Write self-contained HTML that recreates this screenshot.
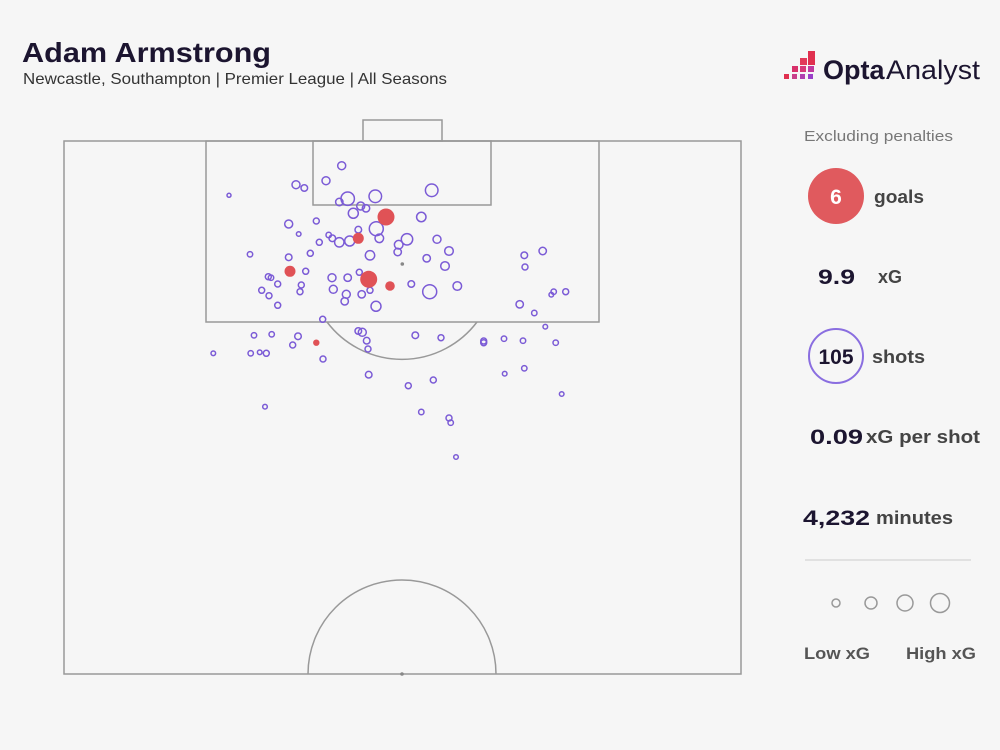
<!DOCTYPE html>
<html><head><meta charset="utf-8"><style>
body{margin:0;background:#f6f6f6;font-family:"Liberation Sans",sans-serif}
</style></head><body>
<svg width="1000" height="750" xmlns="http://www.w3.org/2000/svg" style="display:block">
<rect width="1000" height="750" fill="#f6f6f6"/>
<text x="22" y="62" font-size="28" font-weight="bold" fill="#1c1530" textLength="249" lengthAdjust="spacingAndGlyphs">Adam Armstrong</text>
<text x="23" y="84" font-size="16" fill="#333" textLength="424" lengthAdjust="spacingAndGlyphs">Newcastle, Southampton | Premier League | All Seasons</text>
<g fill="#e0304f">
<rect x="808" y="51" width="7" height="7"/><rect x="800" y="58" width="7" height="7" fill="#e23a5a"/><rect x="808" y="58" width="7" height="7"/>
<rect x="792" y="66" width="6" height="6" fill="#d8306a"/><rect x="800" y="66" width="6" height="6" fill="#d63a7a"/><rect x="808" y="66" width="6" height="6" fill="#c03aa0"/>
<rect x="784" y="74" width="5" height="5" fill="#e0304f"/><rect x="792" y="74" width="5" height="5" fill="#c8408a"/><rect x="800" y="74" width="5" height="5" fill="#b040b0"/><rect x="808" y="74" width="5" height="5" fill="#9a40c8"/>
</g>
<text x="823" y="79" font-size="27" font-weight="bold" fill="#1c1530">Opta</text>
<text x="886" y="79" font-size="27" fill="#1c1530" textLength="94" lengthAdjust="spacingAndGlyphs">Analyst</text>
<g fill="none" stroke="#999" stroke-width="1.5">
<rect x="64" y="141" width="677" height="533"/>
<rect x="206" y="141" width="393" height="181"/>
<rect x="313" y="141" width="178" height="64"/>
<rect x="363" y="120" width="79" height="21"/>
<path d="M327,322 A94,94 0 0 0 477,322"/>
<path d="M308,674 A94,94 0 0 1 496,674"/>
</g>
<circle cx="402.3" cy="264" r="1.8" fill="#888"/>
<circle cx="402" cy="674" r="1.8" fill="#888"/>
<g fill="none" stroke="#7b5bd6" stroke-width="1.5">
<circle cx="341.7" cy="165.7" r="4"/><circle cx="326" cy="180.7" r="4"/><circle cx="296" cy="184.7" r="4"/><circle cx="304.3" cy="188" r="3.3"/><circle cx="229" cy="195.3" r="2"/><circle cx="347.7" cy="198.7" r="6.7"/><circle cx="375.3" cy="196.3" r="6.3"/><circle cx="431.7" cy="190.3" r="6.3"/><circle cx="339.3" cy="202" r="3.7"/><circle cx="360.7" cy="206" r="4"/><circle cx="366" cy="208.3" r="3.7"/><circle cx="353.3" cy="213.3" r="5"/><circle cx="421.3" cy="217" r="4.7"/><circle cx="288.7" cy="224" r="4"/><circle cx="316.3" cy="221" r="3"/><circle cx="376.3" cy="228.7" r="7"/><circle cx="358.3" cy="229.7" r="3.3"/><circle cx="298.7" cy="234" r="2.3"/><circle cx="328.7" cy="235" r="2.7"/><circle cx="332.3" cy="238.3" r="3.3"/><circle cx="339.3" cy="242.3" r="4.7"/><circle cx="349.7" cy="241" r="5"/><circle cx="379.3" cy="238.3" r="4.3"/><circle cx="407" cy="239.3" r="5.7"/><circle cx="398.7" cy="244.7" r="4.3"/><circle cx="397.7" cy="252" r="3.7"/><circle cx="437" cy="239.3" r="4"/><circle cx="449" cy="251" r="4.3"/><circle cx="319.3" cy="242.3" r="3"/><circle cx="250" cy="254.3" r="2.7"/><circle cx="310.3" cy="253.3" r="3"/><circle cx="288.7" cy="257.3" r="3.3"/><circle cx="370" cy="255.3" r="4.7"/><circle cx="426.7" cy="258.3" r="3.7"/><circle cx="445" cy="266" r="4.3"/><circle cx="305.7" cy="271.3" r="3"/><circle cx="268.3" cy="276.7" r="3"/><circle cx="271" cy="277.7" r="2.7"/><circle cx="332" cy="277.7" r="4"/><circle cx="347.7" cy="277.7" r="3.7"/><circle cx="359.3" cy="272.3" r="3"/><circle cx="277.7" cy="284" r="3"/><circle cx="301.3" cy="285" r="3"/><circle cx="411.3" cy="284" r="3.3"/><circle cx="429.7" cy="291.7" r="7"/><circle cx="457.3" cy="286" r="4.3"/><circle cx="261.7" cy="290.3" r="3"/><circle cx="269" cy="295.7" r="3"/><circle cx="300" cy="291.7" r="3"/><circle cx="333.3" cy="289.3" r="4"/><circle cx="346.3" cy="294.3" r="4"/><circle cx="361.7" cy="294.3" r="3.7"/><circle cx="370" cy="290.3" r="3"/><circle cx="344.7" cy="301.3" r="3.7"/><circle cx="376" cy="306.3" r="5"/><circle cx="277.7" cy="305.3" r="3"/><circle cx="524.3" cy="255.3" r="3.3"/><circle cx="542.7" cy="251" r="3.7"/><circle cx="525" cy="267" r="3"/><circle cx="519.7" cy="304.3" r="3.7"/><circle cx="534.3" cy="313" r="2.7"/><circle cx="553.7" cy="291.7" r="2.7"/><circle cx="551.3" cy="294.7" r="2.3"/><circle cx="565.7" cy="291.7" r="3"/><circle cx="545.3" cy="326.7" r="2.3"/><circle cx="322.7" cy="319.3" r="3"/><circle cx="254" cy="335.3" r="2.7"/><circle cx="271.7" cy="334.3" r="2.7"/><circle cx="298" cy="336.3" r="3.3"/><circle cx="292.7" cy="345" r="3"/><circle cx="358.3" cy="331" r="3.3"/><circle cx="362.3" cy="332.3" r="4"/><circle cx="366.7" cy="340.7" r="3.3"/><circle cx="368" cy="349" r="3"/><circle cx="415.3" cy="335.3" r="3.3"/><circle cx="441" cy="337.7" r="3"/><circle cx="483.7" cy="341" r="3"/><circle cx="483.7" cy="342.7" r="3"/><circle cx="504" cy="338.7" r="2.7"/><circle cx="523" cy="340.7" r="2.7"/><circle cx="555.7" cy="342.7" r="2.7"/><circle cx="213.3" cy="353.3" r="2.3"/><circle cx="250.7" cy="353.3" r="2.7"/><circle cx="259.7" cy="352.3" r="2.3"/><circle cx="266.3" cy="353.3" r="3"/><circle cx="323" cy="359" r="3"/><circle cx="368.7" cy="374.7" r="3.3"/><circle cx="408.3" cy="385.7" r="3"/><circle cx="433.3" cy="380" r="3"/><circle cx="504.7" cy="373.7" r="2.3"/><circle cx="524.3" cy="368.3" r="2.7"/><circle cx="561.7" cy="394" r="2.3"/><circle cx="265" cy="406.7" r="2.3"/><circle cx="421.3" cy="412" r="2.7"/><circle cx="449" cy="418" r="3"/><circle cx="450.7" cy="422.7" r="2.7"/><circle cx="456" cy="457" r="2.3"/>
</g>
<g fill="#e05256">
<circle cx="386" cy="217" r="8.5"/><circle cx="358.3" cy="238.3" r="5.5"/><circle cx="290" cy="271.3" r="5.5"/><circle cx="368.7" cy="279.3" r="8.5"/><circle cx="390" cy="286" r="4.8"/><circle cx="316.3" cy="342.7" r="3.2"/>
</g>
<text x="804" y="141" font-size="15" fill="#777" textLength="149" lengthAdjust="spacingAndGlyphs">Excluding penalties</text>
<circle cx="836" cy="196" r="28" fill="#e05a5e"/>
<text x="836" y="204" font-size="21" font-weight="bold" fill="#fff" text-anchor="middle">6</text>
<text x="874" y="203" font-size="18" font-weight="bold" fill="#444" textLength="50" lengthAdjust="spacingAndGlyphs">goals</text>
<text x="818" y="284" font-size="21" font-weight="bold" fill="#1c1530" textLength="37" lengthAdjust="spacingAndGlyphs">9.9</text>
<text x="878" y="283" font-size="18" font-weight="bold" fill="#444">xG</text>
<circle cx="836" cy="356" r="27" fill="none" stroke="#8a6ee0" stroke-width="2"/>
<text x="836" y="364" font-size="21" font-weight="bold" fill="#1c1530" text-anchor="middle">105</text>
<text x="872" y="363" font-size="18" font-weight="bold" fill="#444" textLength="53" lengthAdjust="spacingAndGlyphs">shots</text>
<text x="810" y="444" font-size="21" font-weight="bold" fill="#1c1530" textLength="53" lengthAdjust="spacingAndGlyphs">0.09</text>
<text x="866" y="443" font-size="18" font-weight="bold" fill="#444" textLength="114" lengthAdjust="spacingAndGlyphs">xG per shot</text>
<text x="803" y="525" font-size="21" font-weight="bold" fill="#1c1530" textLength="67" lengthAdjust="spacingAndGlyphs">4,232</text>
<text x="876" y="524" font-size="18" font-weight="bold" fill="#444" textLength="77" lengthAdjust="spacingAndGlyphs">minutes</text>
<line x1="805" y1="560" x2="971" y2="560" stroke="#ccc" stroke-width="1"/>
<g fill="none" stroke="#999" stroke-width="1.5">
<circle cx="836" cy="603" r="4"/><circle cx="871" cy="603" r="6"/><circle cx="905" cy="603" r="8"/><circle cx="940" cy="603" r="9.5"/>
</g>
<text x="804" y="659" font-size="17" font-weight="bold" fill="#555" textLength="66" lengthAdjust="spacingAndGlyphs">Low xG</text>
<text x="906" y="659" font-size="17" font-weight="bold" fill="#555" textLength="70" lengthAdjust="spacingAndGlyphs">High xG</text>
</svg>
</body></html>
